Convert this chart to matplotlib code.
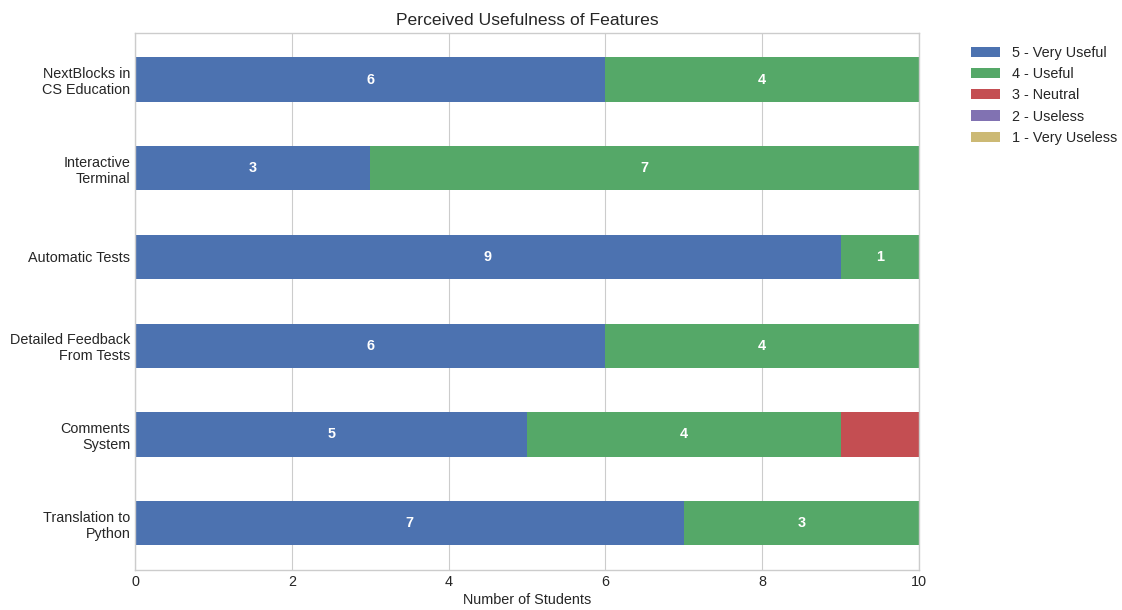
import matplotlib
matplotlib.use("Agg")
import matplotlib.pyplot as plt
import numpy as np

plt.style.use("seaborn-v0_8-whitegrid")
plt.rcParams["font.family"] = ["Liberation Sans", "DejaVu Sans"]

features = [
    "NextBlocks in\nCS Education",
    "Interactive\nTerminal",
    "Automatic Tests",
    "Detailed Feedback\nFrom Tests",
    "Comments\nSystem",
    "Translation to\nPython",
]
rating_labels = ["5 - Very Useful", "4 - Useful", "3 - Neutral", "2 - Useless", "1 - Very Useless"]
very_useful = [6, 3, 9, 6, 5, 7]
useful = [4, 7, 1, 4, 4, 3]
neutral = [0, 0, 0, 0, 1, 0]
useless = [0, 0, 0, 0, 0, 0]
very_useless = [0, 0, 0, 0, 0, 0]
colors = ["#4c72b0", "#55a868", "#c44e52", "#8172b2", "#ccb974"]

series = [very_useful, useful, neutral, useless, very_useless]

FS = 10.4

fig, ax = plt.subplots(figsize=(11.22, 6.10), dpi=100)
fig.subplots_adjust(left=0.1205, right=0.819, top=0.946, bottom=0.066)

y = np.arange(len(features))
left = np.zeros(len(features))
containers = []
for vals, lab, col in zip(series, rating_labels, colors):
    vals = np.array(vals, dtype=float)
    bars = ax.barh(y, vals, left=left, height=0.5, color=col, label=lab)
    containers.append((bars, vals))
    left += vals

# value labels on the two main rating groups
for bars, vals in containers[:2]:
    for rect, v in zip(bars, vals):
        if v > 0:
            ax.text(rect.get_x() + rect.get_width() / 2, rect.get_y() + rect.get_height() / 2,
                    f"{int(v)}", ha="center", va="center", color="white",
                    fontweight="bold", fontsize=FS)

ax.set_yticks(y)
ax.set_yticklabels(features, fontsize=FS)
ax.invert_yaxis()
ax.set_xlim(0, 10)
ax.set_xlabel("Number of Students", fontsize=FS, labelpad=3.5)
ax.set_title("Perceived Usefulness of Features", fontsize=12.6)
ax.grid(axis="y", visible=False)
ax.tick_params(axis="x", labelsize=FS)
for s in ax.spines.values():
    s.set_color("#cccccc")
    s.set_visible(True)

ax.legend(loc="upper left", bbox_to_anchor=(1.05, 1.0), fontsize=FS, frameon=False,
          handlelength=2.0)

fig.savefig("out.png", dpi=100)
